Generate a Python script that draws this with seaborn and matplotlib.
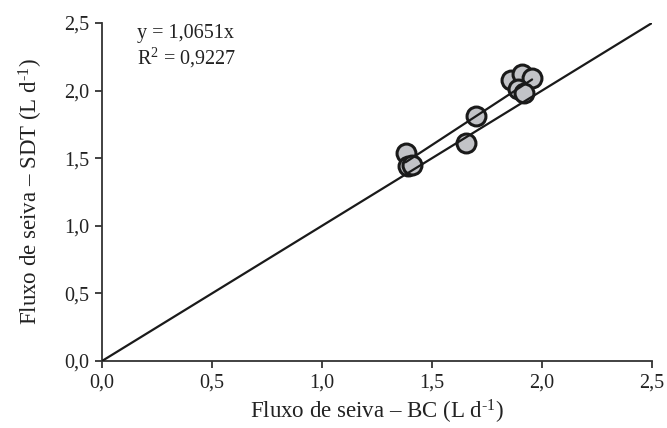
import numpy as np
import pandas as pd
import matplotlib
matplotlib.use("Agg")
import matplotlib.pyplot as plt
import seaborn as sns

# Data
bc = [1.38, 1.39, 1.41, 1.655, 1.70, 1.86, 1.91, 1.955, 1.89, 1.92]
sdt = [1.54, 1.44, 1.45, 1.61, 1.81, 2.08, 2.12, 2.09, 2.01, 1.98]
slope = 1.0651
r2_text = "0,9227"
ticks = [0.0, 0.5, 1.0, 1.5, 2.0, 2.5]
tick_labels = ["0,0", "0,5", "1,0", "1,5", "2,0", "2,5"]

sns.set_theme(style="ticks")
plt.rcParams["font.family"] = ["Liberation Serif", "DejaVu Serif"]
plt.rcParams["mathtext.fontset"] = "custom"
plt.rcParams["mathtext.rm"] = "Liberation Serif"
plt.rcParams["mathtext.it"] = "Liberation Serif:italic"

fig = plt.figure(figsize=(6.67, 4.28), dpi=100)
ax = fig.add_axes([0.1529, 0.1565, 0.9775 - 0.1529, 0.9463 - 0.1565])

df = pd.DataFrame({"bc": bc, "sdt": sdt})

# 1:1 line
one = pd.DataFrame({"x": [0.0, 2.5], "y": [0.0, 2.5]})
sns.lineplot(data=one, x="x", y="y", ax=ax, color="#1a1a1a", lw=1.6, zorder=3)

# Points
sns.scatterplot(data=df, x="bc", y="sdt", ax=ax, s=185, color="#c2c3c7",
                edgecolor="#1a1a1a", linewidth=2.2, zorder=2)

# Regression line across data range
xr = np.array([min(bc), max(bc)])
reg = pd.DataFrame({"x": xr, "y": slope * xr})
sns.lineplot(data=reg, x="x", y="y", ax=ax, color="#1a1a1a", lw=1.6, zorder=3)

ax.set_xlim(0, 2.5)
ax.set_ylim(0, 2.5)
ax.set_xticks(ticks)
ax.set_xticklabels(tick_labels)
ax.set_yticks(ticks)
ax.set_yticklabels(tick_labels)
ax.tick_params(axis="both", direction="out", length=5, width=1.3,
               color="#333333", labelsize=14.5, labelcolor="#222222")
ax.tick_params(axis="x", pad=4)
ax.tick_params(axis="y", pad=4)
for side in ["top", "right"]:
    ax.spines[side].set_visible(False)
for side in ["left", "bottom"]:
    ax.spines[side].set_linewidth(1.3)
    ax.spines[side].set_color("#333333")

sup = r"$^{\mathregular{\text{-}1}}$"
ax.set_xlabel("Fluxo de seiva – BC (L d" + sup + ")", fontsize=16.5, color="#222222", labelpad=4)
ax.set_ylabel("Fluxo de seiva – SDT (L d" + sup + ")", fontsize=16.5, color="#222222", labelpad=14)

ax.text(0.064, 0.970, "y = 1,0651x", transform=ax.transAxes, fontsize=14.5,
        color="#222222", va="center", ha="left")
ax.text(0.064, 0.896, r"R$^{\mathregular{2}}$ = " + r2_text, transform=ax.transAxes,
        fontsize=14.5, color="#222222", va="center", ha="left")

fig.savefig("out.png", dpi=100)
